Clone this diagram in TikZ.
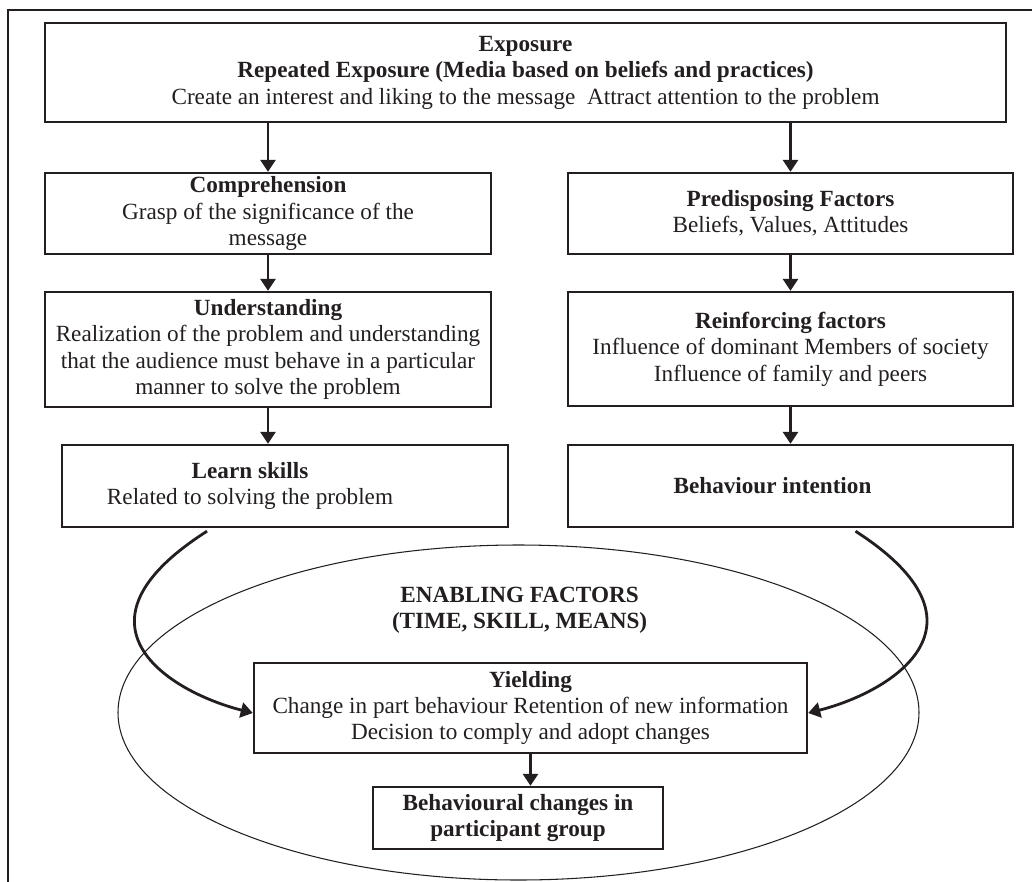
\documentclass[tikz,border=0pt]{standalone}
\usepackage{fontspec}
\setmainfont{Liberation Serif}
\usetikzlibrary{arrows.meta}
\definecolor{ink}{RGB}{35,31,32}

\begin{document}
\begin{tikzpicture}[
		box/.style={
			draw=ink,
			line width=1.7pt,
			text=ink,
			align=center,
			inner sep=2pt,
			font=\fontsize{16.5}{18.8}\selectfont,
			minimum width=11.15cm
		},
		arrow/.style={
			-{Triangle[length=0.3cm,width=0.38cm]},
			draw=ink,
			line width=1.7pt
		},
		curvearrow/.style={
			arrow,
			line width=2pt
		}
		]
		\useasboundingbox (0,0) rectangle (25.8,-22.05);
		
		% Moldura
		\draw[ink, line width=1.6pt] (0.2,-22.05) -- (0.2,-0.25) -- (25.8,-0.25);
		
		% Exposição
		\node[box, minimum width=24.025cm, minimum height=2.475cm] (expo) at (13.1375,-1.8125)
		{\textbf{Exposure}\\ \textbf{Repeated Exposure (Media based on beliefs and practices)}\\ Create an interest and liking to the message~ Attract attention to the problem};
		
		% Coluna esquerda
		\node[box, minimum height=2.025cm] (compre) at (6.7,-5.3375)
		{\textbf{Comprehension}\\ Grasp of the significance of the\\ message};
		\node[box, minimum height=2.875cm] (under) at (6.7,-8.7375)
		{\textbf{Understanding}\\ Realization of the problem and understanding\\ that the audience must behave in a particular\\ manner to solve the problem};
		\node[box, minimum height=2.05cm] (learn) at (7.125,-12.15)
		{\textbf{Learn skills}\hspace*{1.75cm}\\ Related to solving the problem\hspace*{1.75cm}};
		
		% Coluna direita
		\node[box, minimum width=11.125cm, minimum height=2.025cm] (predis) at (19.7625,-5.3375)
		{\textbf{Predisposing Factors}\\ Beliefs, Values, Attitudes};
		\node[box, minimum width=11.125cm, minimum height=2.85cm] (reinf) at (19.7625,-8.725)
		{\textbf{Reinforcing factors}\\ Influence of dominant Members of society\\ Influence of family and peers};
		\node[box, minimum width=11.125cm, minimum height=2.05cm] (intent) at (19.7625,-12.15)
		{\textbf{Behaviour intention}\hspace*{0.9cm}};
		
		% Fatores facilitadores
		\draw[ink, line width=0.75pt] (12.9625,-17.8125) ellipse [x radius=10.0125cm, y radius=4.1875cm];
		\node[text=ink, align=center, font=\fontsize{16.5}{18.8}\selectfont\bfseries] (enabling) at (12.99,-15.25)
		{ENABLING FACTORS\\ (TIME, SKILL, MEANS)};
		\node[box, minimum width=13.825cm, minimum height=2.25cm] (yield) at (13.2625,-17.7)
		{\textbf{Yielding}\\ Change in part behaviour Retention of new information\\ Decision to comply and adopt changes};
		\node[box, font=\fontsize{16.5}{18.8}\selectfont\bfseries, minimum width=7.25cm, minimum height=1.55cm] (change) at (12.95,-20.45)
		{Behavioural changes in\\ participant group};
		
		% Ligações
		\draw[arrow] (expo.south -| compre.north) -- (compre.north);
		\draw[arrow] (expo.south -| predis.north) -- (predis.north);
		\draw[arrow] (compre) -- (under);
		\draw[arrow] (under) -- (under.south |- learn.north);
		\draw[arrow] (predis) -- (reinf);
		\draw[arrow] (reinf) -- (intent);
		\draw[arrow] (yield) -- (yield.south |- change.north);
		
		% Curvas até Yielding
		\coordinate (lstart) at ([xshift=-1.95cm,yshift=-0.075cm]learn.south);
		\coordinate (rstart) at ([xshift=1.625cm,yshift=-0.075cm]intent.south);
		\draw[curvearrow] (lstart) .. controls (1.5,-15.625) and (4.25,-17.3) .. ([yshift=-0.125cm]yield.west);
		\draw[curvearrow] (rstart) .. controls (25.025,-15.625) and (22.275,-17.3) .. ([yshift=-0.125cm]yield.east);
		
	\end{tikzpicture}
\end{document}
